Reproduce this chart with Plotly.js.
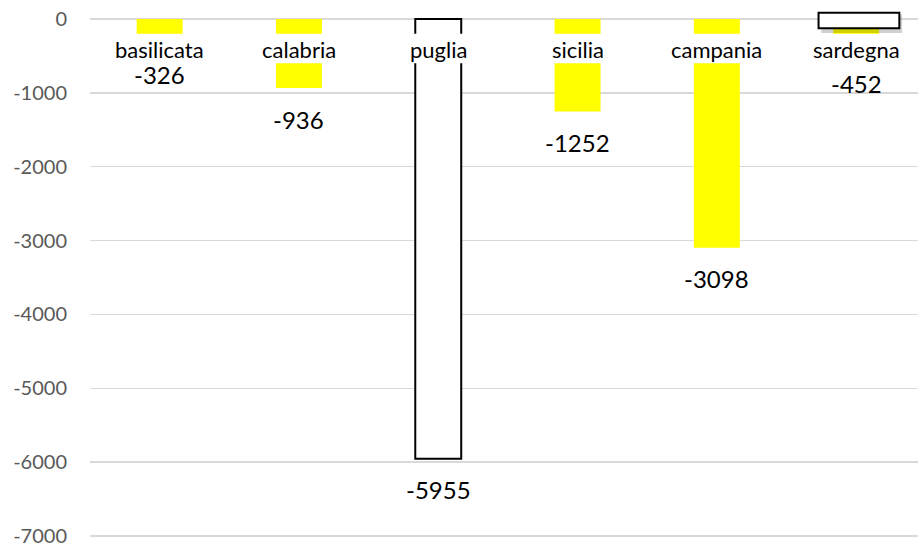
<!DOCTYPE html>
<html>
<head>
<meta charset="utf-8">
<script src="https://cdn.plot.ly/plotly-3.0.1.min.js"></script>
<style>html,body{margin:0;padding:0;background:#fff;}#chart{width:918px;height:545px;}</style>
</head>
<body>
<div id="chart"></div>
<script>
const categories = ['basilicata', 'calabria', 'puglia', 'sicilia', 'campania', 'sardegna'];
const values = [-326, -936, -5955, -1252, -3098, -452];
const yTickValues = [0, -1000, -2000, -3000, -4000, -5000, -6000, -7000];
const yTickLabels = ['0', '-1000', '-2000', '-3000', '-4000', '-5000', '-6000', '-7000'];

const FONT = 'Lato, "Open Sans", sans-serif';
const fills = categories.map(c => c === 'puglia' ? '#ffffff' : '#ffff00');
const lineW = categories.map(c => c === 'puglia' ? 2 : 0);

const trace = {
  type: 'bar',
  x: categories,
  y: values,
  marker: { color: fills, line: { color: '#000000', width: lineW } },
  hoverinfo: 'none'
};

const annotations = [];
categories.forEach((c, i) => {
  annotations.push({
    x: c, y: values[i], xref: 'x', yref: 'y', yshift: -31,
    text: String(values[i]), showarrow: false,
    font: { family: FONT, size: 24, color: '#000000' }, yanchor: 'middle'
  });
  annotations.push({
    x: c, y: -410, xref: 'x', yref: 'y',
    text: c, showarrow: false,
    font: { family: FONT, size: 22, color: '#000000' }, yanchor: 'middle'
  });
});

const sIdx = categories.indexOf('sardegna');
const shapes = [
  { type: 'rect', xref: 'paper', yref: 'y', x0: 0, x1: 1, y0: -199, y1: -600,
    fillcolor: '#ffffff', line: { width: 0 }, layer: 'above' },
  { type: 'rect', xref: 'x', yref: 'y', x0: sIdx - 0.25, x1: sIdx + 0.33, y0: 60, y1: -190,
    fillcolor: 'rgba(0,0,0,0.18)', line: { width: 0 }, layer: 'above' },
  { type: 'rect', xref: 'x', yref: 'y', x0: sIdx - 0.27, x1: sIdx + 0.31, y0: 85, y1: -126,
    fillcolor: '#ffffff', line: { color: '#000000', width: 2 }, layer: 'above' }
];

const layout = {
  width: 918, height: 545,
  margin: { l: 90, r: 0, t: 0, b: 0 },
  paper_bgcolor: '#ffffff', plot_bgcolor: '#ffffff',
  showlegend: false,
  bargap: 0.67,
  font: { family: FONT },
  xaxis: { range: [-0.5, 5.444], showticklabels: false, showgrid: false, zeroline: false, showline: false, ticks: '' },
  yaxis: {
    range: [-7122, 257], tickvals: yTickValues, ticktext: yTickLabels,
    showgrid: true, gridcolor: '#d9d9d9', gridwidth: 1.5, zeroline: false, showline: false,
    ticks: '', ticklabelstandoff: 22, ticklabeloverflow: 'allow',
    tickfont: { family: FONT, size: 20, color: '#595959' }
  },
  annotations: annotations,
  shapes: shapes
};

Plotly.newPlot('chart', [trace], layout, { staticPlot: true, displayModeBar: false });
</script>
</body>
</html>
